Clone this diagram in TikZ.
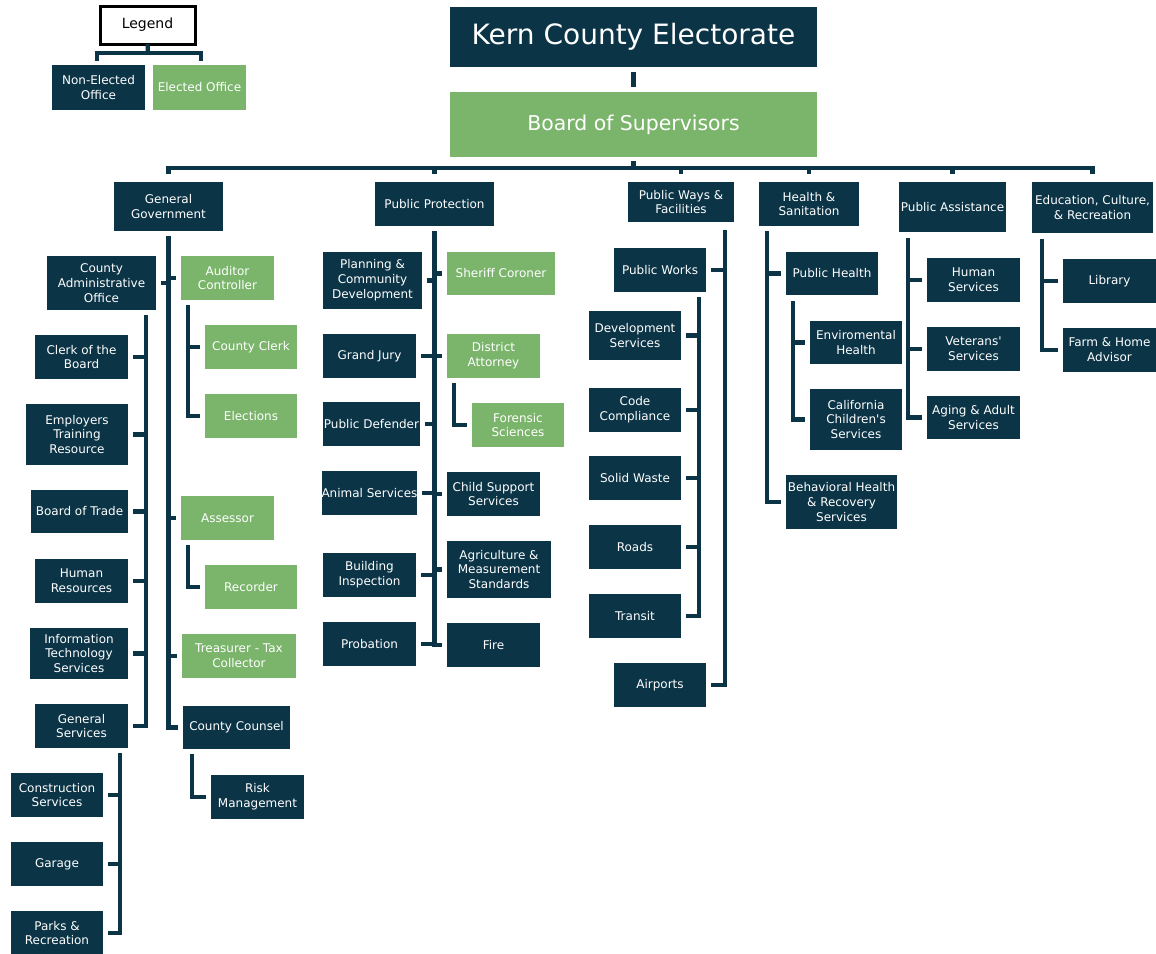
\documentclass[tikz,border=0pt]{standalone}
\usepackage{fontspec}
\setmainfont{DejaVu Sans}
\newfontfamily\kfont{DejaVu Sans}
\definecolor{navy}{RGB}{11,52,70}
\definecolor{leaf}{RGB}{122,181,107}
\newcommand\orgbox[7]{\node[#2, minimum width={(#5-#3)*0.75pt}, minimum height={(#6-#4)*0.75pt}] (#1) at ({(#3+#5)/2},{(#4+#6)/2}) {#7};}
\tikzset{
 orgbase/.style={inner sep=0pt, outer sep=0pt, align=center, text=white, font=\kfont\fontsize{9}{11.2}\selectfont},
 darkbox/.style={orgbase, fill=navy},
 greenbox/.style={orgbase, fill=leaf},
 legendbox/.style={orgbase, fill=white, draw=black, line width=2.25pt, text=black, font=\kfont\fontsize{10.5}{12}\selectfont},
 conn/.style={draw=navy, line width=3.2pt, line join=miter, line cap=butt},
}
\begin{document}
\begin{tikzpicture}[x=0.75pt,y=-0.75pt]
\useasboundingbox (0,0) rectangle (1156,953);
% legend
\orgbox{legend}{legendbox}{100}{6}{195}{44}{Legend}
\orgbox{ne}{darkbox}{52}{65}{145}{110}{Non-Elected\\Office}
\orgbox{el}{greenbox}{153}{65}{246}{110}{Elected Office}
% top
\orgbox{elec}{darkbox, font=\kfont\fontsize{21}{25}\selectfont}{450}{7}{817}{67}{Kern County Electorate}
\orgbox{bos}{greenbox, font=\kfont\fontsize{15.3}{18}\selectfont}{450}{92}{817}{157}{Board of Supervisors}
% categories
\orgbox{gg}{darkbox}{114}{182}{223}{231}{General\\Government}
\orgbox{pp}{darkbox}{375}{182}{494}{226}{Public Protection}
\orgbox{pw}{darkbox}{628}{182}{734}{222}{Public Ways \&\\Facilities}
\orgbox{hs}{darkbox}{759}{182}{859}{226}{Health \&\\Sanitation}
\orgbox{pa}{darkbox}{899}{182}{1006}{232}{Public Assistance}
\orgbox{ecr}{darkbox}{1032}{182}{1153}{233}{Education, Culture,\\\& Recreation}
% general government
\orgbox{cao}{darkbox}{47}{256}{156}{310}{County\\Administrative\\Office}
\orgbox{ac}{greenbox}{181}{256}{274}{300}{Auditor\\Controller}
\orgbox{cclerk}{greenbox}{205}{325}{297}{369}{County Clerk}
\orgbox{elns}{greenbox}{205}{394}{297}{438}{Elections}
\orgbox{cob}{darkbox}{35}{335}{128}{379}{Clerk of the\\Board}
\orgbox{etr}{darkbox}{26}{404}{128}{465}{Employers\\Training\\Resource}
\orgbox{bot}{darkbox}{31}{490}{128}{533}{Board of Trade}
\orgbox{hr}{darkbox}{35}{559}{128}{603}{Human\\Resources}
\orgbox{its}{darkbox}{30}{628}{128}{679}{Information\\Technology\\Services}
\orgbox{gs}{darkbox}{35}{704}{128}{748}{General\\Services}
\orgbox{cs}{darkbox}{11}{773}{103}{817}{Construction\\Services}
\orgbox{gar}{darkbox}{11}{842}{103}{886}{Garage}
\orgbox{par}{darkbox}{11}{911}{103}{955}{Parks \&\\Recreation}
\orgbox{ass}{greenbox}{181}{496}{274}{540}{Assessor}
\orgbox{rec}{greenbox}{205}{565}{297}{609}{Recorder}
\orgbox{tre}{greenbox}{182}{634}{296}{678}{Treasurer - Tax\\Collector}
\orgbox{cou}{darkbox}{183}{706}{290}{749}{County Counsel}
\orgbox{risk}{darkbox}{211}{775}{304}{819}{Risk\\Management}
% public protection
\orgbox{plan}{darkbox}{323}{252}{422}{309}{Planning \&\\Community\\Development}
\orgbox{sher}{greenbox}{447}{252}{555}{295}{Sheriff Coroner}
\orgbox{gj}{darkbox}{323}{334}{416}{378}{Grand Jury}
\orgbox{da}{greenbox}{447}{334}{540}{378}{District\\Attorney}
\orgbox{fs}{greenbox}{472}{403}{564}{447}{Forensic\\Sciences}
\orgbox{pd}{darkbox}{323}{402}{420}{446}{Public Defender}
\orgbox{as}{darkbox}{323}{471}{416}{515}{Animal Services}
\orgbox{css}{darkbox}{447}{472}{540}{516}{Child Support\\Services}
\orgbox{bi}{darkbox}{323}{553}{416}{597}{Building\\Inspection}
\orgbox{ag}{darkbox}{447}{541}{551}{598}{Agriculture \&\\Measurement\\Standards}
\orgbox{prob}{darkbox}{323}{622}{416}{666}{Probation}
\orgbox{fire}{darkbox}{447}{623}{540}{667}{Fire}
% public ways
\orgbox{pwk}{darkbox}{614}{248}{706}{292}{Public Works}
\orgbox{dev}{darkbox}{589}{311}{681}{360}{Development\\Services}
\orgbox{code}{darkbox}{589}{388}{681}{432}{Code\\Compliance}
\orgbox{sw}{darkbox}{589}{456}{681}{500}{Solid Waste}
\orgbox{roads}{darkbox}{589}{525}{681}{569}{Roads}
\orgbox{tr}{darkbox}{589}{594}{681}{638}{Transit}
\orgbox{air}{darkbox}{614}{663}{706}{707}{Airports}
% health
\orgbox{ph}{darkbox}{786}{252}{878}{295}{Public Health}
\orgbox{env}{darkbox}{810}{321}{902}{364}{Enviromental\\Health}
\orgbox{cal}{darkbox}{810}{389}{902}{450}{California\\Children's\\Services}
\orgbox{bh}{darkbox}{786}{475}{897}{529}{Behavioral Health\\\& Recovery\\Services}
% public assistance
\orgbox{hum}{darkbox}{927}{258}{1020}{302}{Human\\Services}
\orgbox{vet}{darkbox}{927}{327}{1020}{371}{Veterans'\\Services}
\orgbox{aging}{darkbox}{927}{396}{1020}{439}{Aging \& Adult\\Services}
% education
\orgbox{lib}{darkbox}{1063}{259}{1156}{303}{Library}
\orgbox{farm}{darkbox}{1063}{328}{1156}{372}{Farm \& Home\\Advisor}

% coordinates
\coordinate (lgB) at (148,53);
\coordinate (lgL) at (97,61);
\coordinate (lgR) at (201,61);
\coordinate (bus) at (633,168);
\coordinate (acS) at (188,305);
\coordinate (assS) at (188,545);
\coordinate (couS) at (192,754);
\coordinate (caoS) at (146,315);
\coordinate (gsS) at (120,753);
\coordinate (pwS) at (725,230);
\coordinate (pwkS) at (699,297);
\coordinate (hsS) at (767,231);
\coordinate (phS) at (793,301);
\coordinate (paS) at (908,238);
\coordinate (ecrS) at (1042,239);

% legend bracket
\draw[conn] (legend.south) -- (lgB);
\draw[conn] (lgL) |- (lgB) -| (lgR);
% top
\draw[conn] ([yshift=-3.75pt]elec.south) -- ([yshift=3.75pt]bos.north);
\draw[conn] ([yshift=-3pt]bos.south) -- (bos.south |- bus);
\draw[conn] ([yshift=6pt]gg.north) |- (bus) -| ([yshift=6pt]ecr.north);
\foreach \c in {pp,pw,hs,pa}{\draw[conn] (\c.north |- bus) -- ([yshift=6pt]\c.north);}
% general government
\draw[conn] ([yshift=-3.75pt]gg.south) |- ([xshift=-3.75pt]cou.west);
\foreach \c in {ac,ass,tre}{\draw[conn] (gg.south |- \c.west) -- ([xshift=-3.75pt]\c.west);}
\draw[conn] (gg.south |- cao.east) -- ([xshift=3.75pt]cao.east);
\draw[conn] (acS) |- ([xshift=-3.75pt]elns.west);
\draw[conn] (acS |- cclerk.west) -- ([xshift=-3.75pt]cclerk.west);
\draw[conn] (assS) |- ([xshift=-3.75pt]rec.west);
\draw[conn] (couS) |- ([xshift=-3.75pt]risk.west);
\draw[conn] (caoS) |- ([xshift=3.75pt]gs.east);
\foreach \c in {cob,etr,bot,hr,its}{\draw[conn] (caoS |- \c.east) -- ([xshift=3.75pt]\c.east);}
\draw[conn] (gsS) |- ([xshift=3.75pt]par.east);
\foreach \c in {cs,gar}{\draw[conn] (gsS |- \c.east) -- ([xshift=3.75pt]\c.east);}
% public protection
\draw[conn] ([yshift=-3.75pt]pp.south) |- ([xshift=-3.75pt]fire.west);
\foreach \c in {sher,da,css,ag}{\draw[conn] (pp.south |- \c.west) -- ([xshift=-3.75pt]\c.west);}
\foreach \c in {plan,gj,pd,as,bi,prob}{\draw[conn] (pp.south |- \c.east) -- ([xshift=3.75pt]\c.east);}
\draw[conn] ([xshift=5pt,yshift=-3.75pt]da.south west) |- ([xshift=-3.75pt]fs.west);
% public ways
\draw[conn] (pwS) |- ([xshift=3.75pt]air.east);
\draw[conn] (pwS |- pwk.east) -- ([xshift=3.75pt]pwk.east);
\draw[conn] (pwkS) |- ([xshift=3.75pt]tr.east);
\foreach \c in {dev,code,sw,roads}{\draw[conn] (pwkS |- \c.east) -- ([xshift=3.75pt]\c.east);}
% health
\draw[conn] (hsS) |- ([xshift=-3.75pt]bh.west);
\draw[conn] (hsS |- ph.west) -- ([xshift=-3.75pt]ph.west);
\draw[conn] (phS) |- ([xshift=-3.75pt]cal.west);
\draw[conn] (phS |- env.west) -- ([xshift=-3.75pt]env.west);
% public assistance
\draw[conn] (paS) |- ([xshift=-3.75pt]aging.west);
\foreach \c in {hum,vet}{\draw[conn] (paS |- \c.west) -- ([xshift=-3.75pt]\c.west);}
% education
\draw[conn] (ecrS) |- ([xshift=-3.75pt]farm.west);
\draw[conn] (ecrS |- lib.west) -- ([xshift=-3.75pt]lib.west);
\end{tikzpicture}
\end{document}
